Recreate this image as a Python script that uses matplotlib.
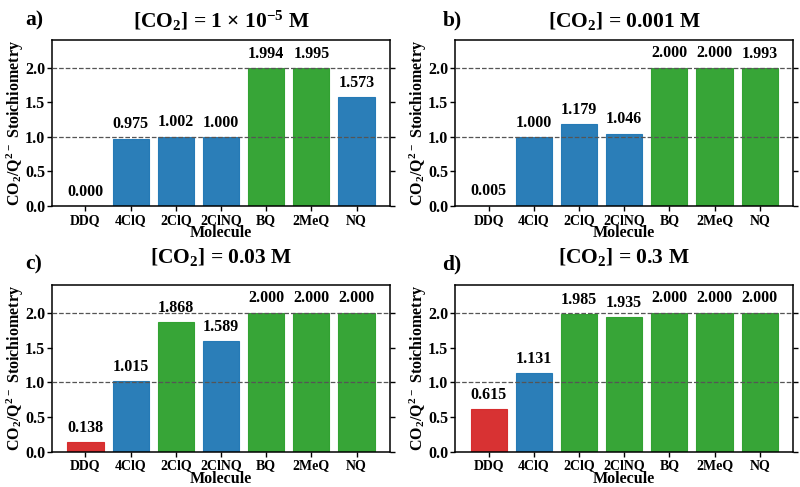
import matplotlib
import numpy as np

matplotlib.use("Agg")
import matplotlib.pyplot as plt

plt.rcParams["font.family"] = ["Liberation Serif", "DejaVu Serif"]
plt.rcParams["font.weight"] = "bold"
plt.rcParams["axes.labelweight"] = "bold"
plt.rcParams["mathtext.fontset"] = "custom"
plt.rcParams["mathtext.rm"] = "Liberation Serif:bold"
plt.rcParams["mathtext.bf"] = "Liberation Serif:bold"
plt.rcParams["mathtext.default"] = "regular"

molecules = ["DDQ", "4ClQ", "2ClQ", "2ClNQ", "BQ", "2MeQ", "NQ"]
stoich_a = [0.000, 0.975, 1.002, 1.000, 1.994, 1.995, 1.573]
stoich_b = [0.005, 1.000, 1.179, 1.046, 2.000, 2.000, 1.993]
stoich_c = [0.138, 1.015, 1.868, 1.589, 2.000, 2.000, 2.000]
stoich_d = [0.615, 1.131, 1.985, 1.935, 2.000, 2.000, 2.000]
titles = [
    r"[CO$_2$] = 1 × 10$^{-5}$ M",
    r"[CO$_2$] = 0.001 M",
    r"[CO$_2$] = 0.03 M",
    r"[CO$_2$] = 0.3 M",
]
panel_tags = ["a)", "b)", "c)", "d)"]
yticks = [0.0, 0.5, 1.0, 1.5, 2.0]

C_RED, C_BLUE, C_GREEN = "#d62728", "#1f77b4", "#2ca02c"


def bar_color(v: float) -> str:
    if v >= 1.8:
        return C_GREEN
    if v >= 0.9:
        return C_BLUE
    return C_RED


fig = plt.figure(figsize=(8, 4.87), dpi=100)
# left, bottom, width, height in figure fractions
boxes = [
    (0.065, 0.577, 0.4225, 0.341),
    (0.569, 0.577, 0.4225, 0.341),
    (0.065, 0.072, 0.4225, 0.343),
    (0.569, 0.072, 0.4225, 0.343),
]
tag_pos = [(0.031, 0.958), (0.553, 0.958), (0.032, 0.457), (0.553, 0.457)]
title_pads = [9, 9, 16, 16]

for box, vals, title, tag, tpos, tpad in zip(boxes, [stoich_a, stoich_b, stoich_c, stoich_d],
                                             titles, panel_tags, tag_pos, title_pads):
    ax = fig.add_axes(box)
    x = np.arange(len(molecules))
    colors = [bar_color(v) for v in vals]
    ax.bar(x, vals, width=0.8, color=colors, edgecolor=colors, linewidth=0.8, alpha=0.95, zorder=2)
    for xi, v in zip(x, vals):
        ax.annotate(f"{v:.3f}", (xi, v), xytext=(0, 4.5), textcoords="offset points",
                    ha="center", va="bottom", fontsize=11.5, fontweight="bold")
    for yl in (1.0, 2.0):
        ax.axhline(yl, color="#555555", ls="--", lw=0.9, zorder=3)
    ax.set_ylim(0, 2.4)
    ax.set_xticks(x)
    ax.set_xticklabels(molecules, fontsize=10, fontweight="bold")
    ax.set_yticks(yticks)
    ax.set_yticklabels([f"{t:.1f}" for t in yticks], fontsize=11.5, fontweight="bold")
    ax.tick_params(axis="y", right=True, direction="out", length=3.5, width=1, pad=1.5)
    ax.tick_params(axis="x", direction="out", length=3.5, width=1, pad=2)
    for s in ax.spines.values():
        s.set_linewidth(1.1)
    ax.set_xlabel("Molecule", fontsize=11.5, fontweight="bold", labelpad=-1)
    ax.set_ylabel(r"CO$_2$/Q$^{2-}$ Stoichiometry", fontsize=11.5, fontweight="bold", labelpad=-1)
    ax.set_title(title, fontsize=15.5, fontweight="bold", pad=tpad)
    fig.text(tpos[0], tpos[1], tag, fontsize=15.5, fontweight="bold", va="center")

fig.savefig("out.png", dpi=100)
